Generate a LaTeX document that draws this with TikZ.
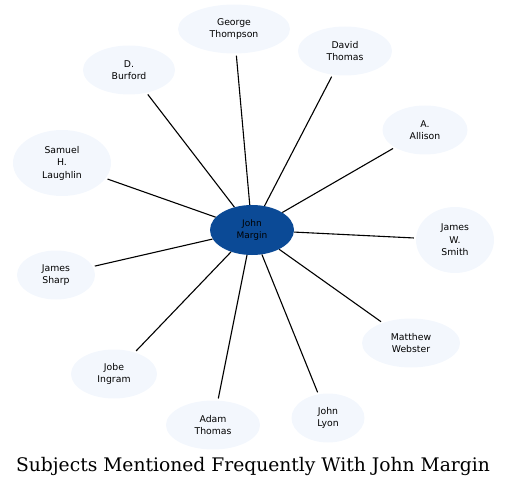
\documentclass[tikz,border=0pt]{standalone}
\usepackage{fontspec}
\setmainfont{DejaVu Sans}
\newfontfamily\titlefont{DejaVu Serif}
\usetikzlibrary{shapes.geometric}
\definecolor{hubblue}{HTML}{0B4A96}
\definecolor{leaffill}{HTML}{F3F7FD}

\begin{document}
\begin{tikzpicture}[x=1pt,y=-1pt,
    hub/.style={ellipse,fill=hubblue,draw=none,inner sep=0pt,minimum width=84pt,minimum height=50pt,
      align=center,font=\fontsize{9}{12}\selectfont},
    leaf/.style={ellipse,fill=leaffill,draw=none,inner sep=0pt,minimum height=49pt,
      align=center,font=\fontsize{9.3}{12.5}\selectfont},
    link/.style={draw=black,line width=1.1pt,shorten >=2pt}]
        \useasboundingbox (0,0) rectangle (508,486);
        \node[hub] (john) at (252,230) {John\\Margin};
        \node[leaf,minimum width=112pt] (george) at (234,29) {George\\Thompson};
        \node[leaf,minimum width=94pt] (david) at (345,51) {David\\Thomas};
        \node[leaf,minimum width=92pt] (burford) at (129,70) {D.\\Burford};
        \node[leaf,minimum width=85pt] (allison) at (425,130) {A.\\Allison};
        \node[leaf,minimum width=98pt,minimum height=66pt] (samuel) at (62,163) {Samuel\\H.\\Laughlin};
        \node[leaf,minimum width=78pt,minimum height=66pt] (smith) at (455,240) {James\\W.\\Smith};
        \node[leaf,minimum width=78pt] (sharp) at (56,275) {James\\Sharp};
        \node[leaf,minimum width=98pt] (matthew) at (411,343) {Matthew\\Webster};
        \node[leaf,minimum width=86pt] (jobe) at (114,374) {Jobe\\Ingram};
        \node[leaf,minimum width=94pt] (adam) at (213,425) {Adam\\Thomas};
        \node[leaf,minimum width=73pt] (lyon) at (328,418) {John\\Lyon};
        \foreach \n in {george,david,burford,allison,samuel,smith,sharp,matthew,jobe,adam,lyon}
          \draw[link] (john) -- (\n);
        \node[font=\titlefont\fontsize{18.7}{22}\selectfont] (title) at (253,466) {Subjects Mentioned Frequently With John Margin};
    \end{tikzpicture}
\end{document}
